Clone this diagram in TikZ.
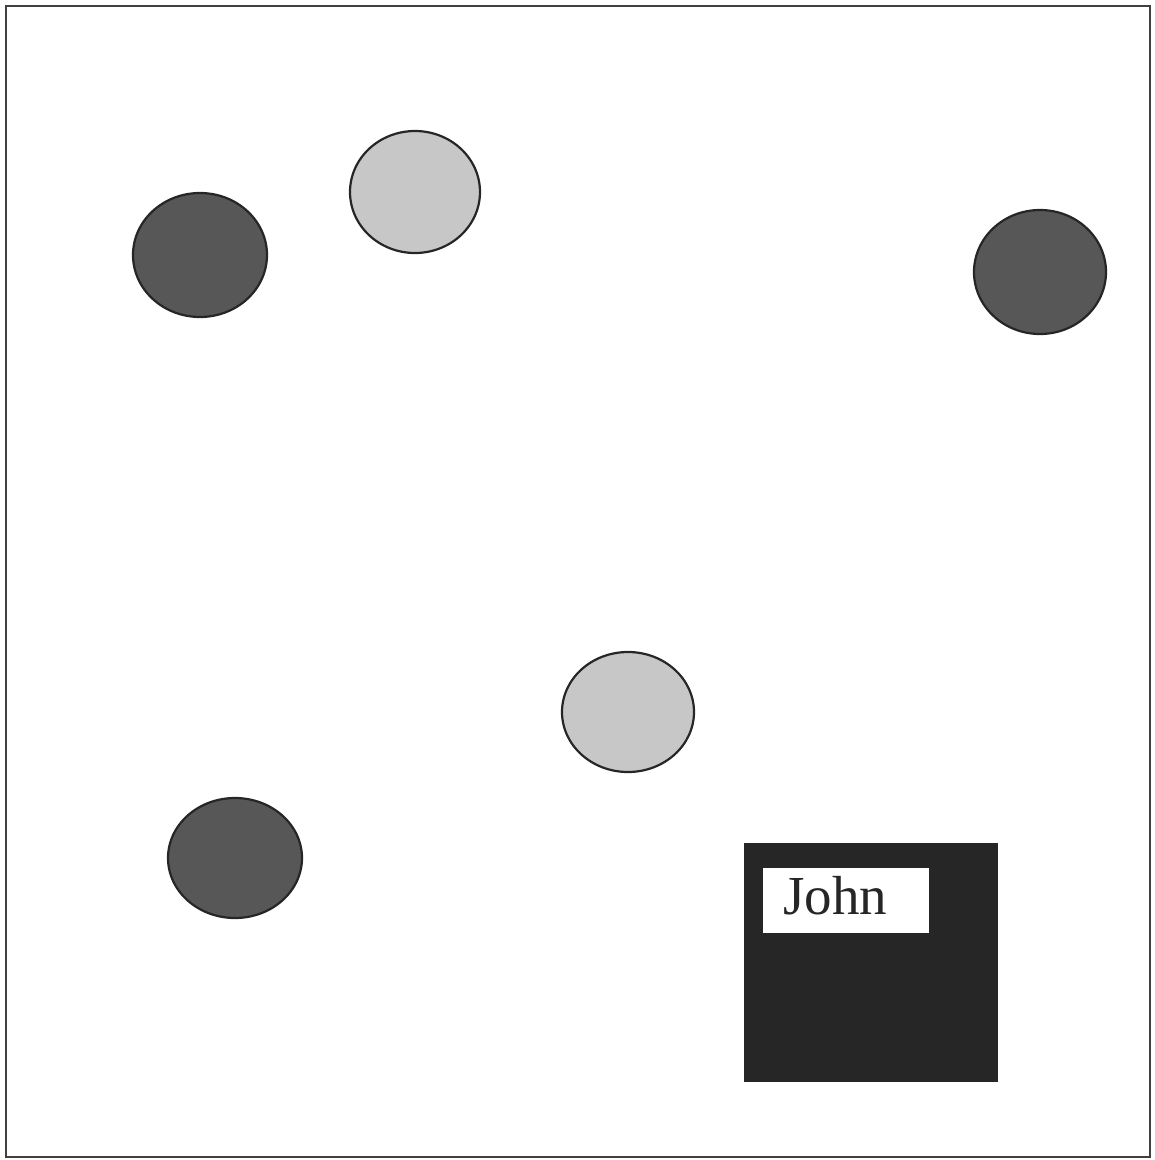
\documentclass[tikz,border=0pt]{standalone}
\usepackage{fontspec}
\setmainfont{Liberation Serif}
\begin{document}
\begin{tikzpicture}[x=1pt,y=-1pt,
  darkdisc/.style={draw=black!85,line width=2.2pt,fill=black!66},
  lightdisc/.style={draw=black!85,line width=2.2pt,fill=black!22},
  frame/.style={draw=black!75,line width=1.6pt}]
\useasboundingbox (0,0) rectangle (1155,1160);
\draw[frame] (6,6) rectangle (1150,1157);
\draw[darkdisc] (200,255) ellipse [x radius=67,y radius=62];
\draw[lightdisc] (415,192) ellipse [x radius=65,y radius=61];
\draw[darkdisc] (1040,272) ellipse [x radius=66,y radius=62];
\draw[lightdisc] (628,712) ellipse [x radius=66,y radius=60];
\draw[darkdisc] (235,858) ellipse [x radius=67,y radius=60];
\node[fill=black!85,inner sep=0pt,minimum width=254,minimum height=239,anchor=north west] (box) at (744,843) {};
\node[fill=white,inner sep=0pt,minimum width=166,minimum height=65,anchor=north west] (label) at (763,868) {};
\node[inner sep=0pt,anchor=base west,font=\fontsize{55}{60}\selectfont,text=black!85] (john) at (783,914) {John};
\end{tikzpicture}
\end{document}
